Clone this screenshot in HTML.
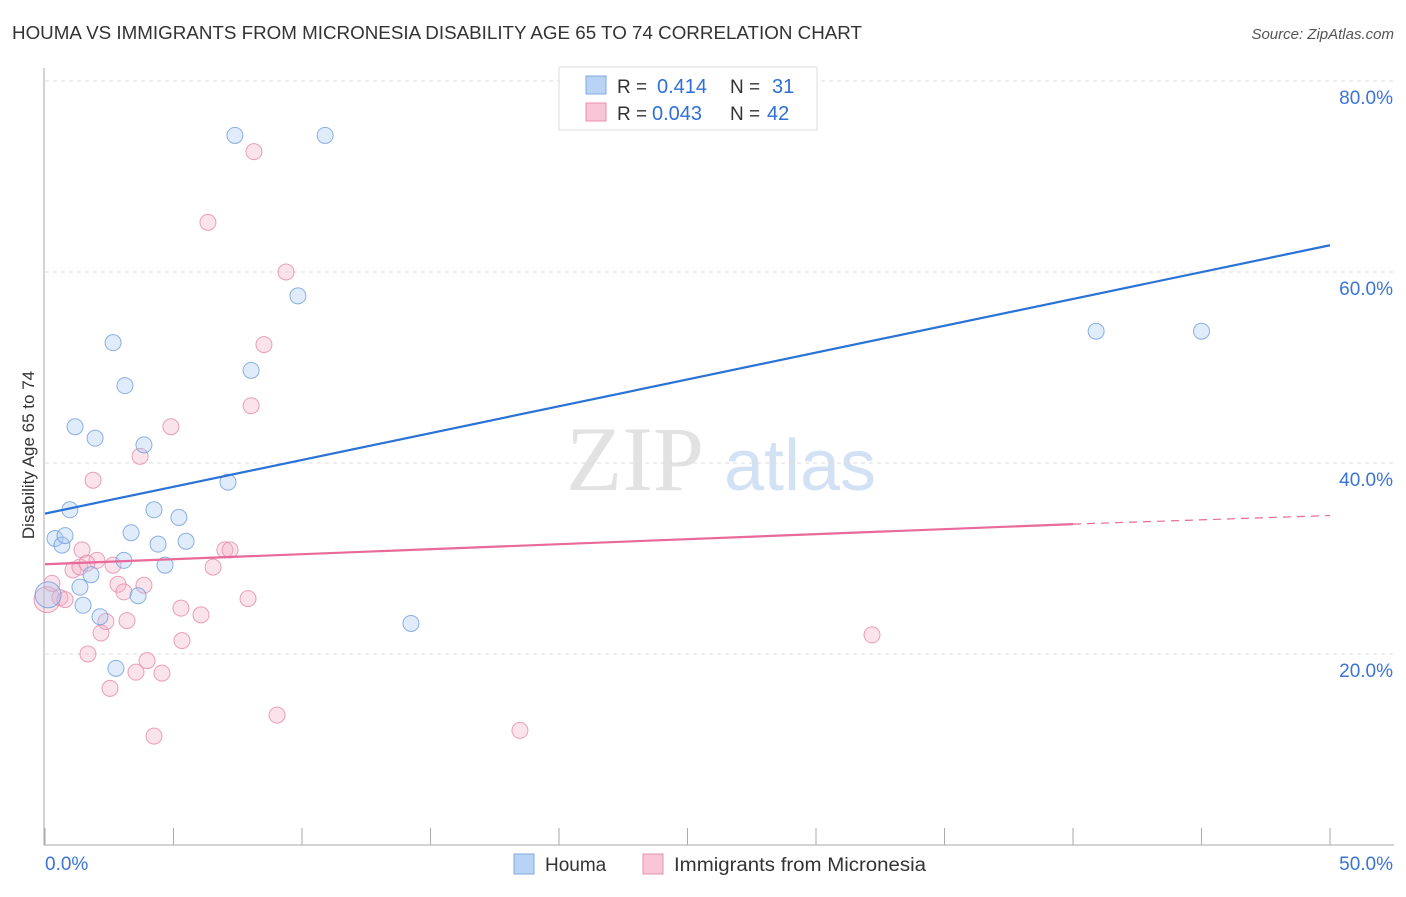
<!DOCTYPE html>
<html><head><meta charset="utf-8"><style>
body{margin:0;background:#fff;font-family:"Liberation Sans",sans-serif;}
svg text{font-family:"Liberation Sans",sans-serif;}
</style></head><body>
<svg id="chart" width="1406" height="892" viewBox="0 0 1406 892">
<text x="12" y="39" font-size="18" fill="#333" textLength="850" lengthAdjust="spacingAndGlyphs">HOUMA VS IMMIGRANTS FROM MICRONESIA DISABILITY AGE 65 TO 74 CORRELATION CHART</text>
<text x="1394" y="39" font-size="15" fill="#555" font-style="italic" text-anchor="end">Source: ZipAtlas.com</text>
<g><text x="635" y="490" font-size="92" fill="#e2e2e2" text-anchor="middle" font-family="Liberation Serif" style="font-family:'Liberation Serif',serif">ZIP</text><text x="800" y="490" font-size="72" fill="#d3e1f5" text-anchor="middle">atlas</text></g>
<g id="grid"></g><g id="axes"></g><g id="marks"></g>
<text transform="translate(34,455) rotate(-90)" font-size="17" fill="#333" text-anchor="middle">Disability Age 65 to 74</text>
<g>
<rect x="559" y="67" width="258" height="63" fill="#fff" stroke="#ddd"/>
<rect x="586" y="76" width="20" height="18" fill="#b9d3f5" stroke="#7ea8e0"/>
<rect x="586" y="103" width="20" height="18" fill="#f8c6d6" stroke="#e890ab"/>
<text x="617" y="93" font-size="19" fill="#333">R =</text><text x="657" y="93" font-size="20" fill="#2f6fd6">0.414</text>
<text x="730" y="93" font-size="19" fill="#333">N =</text><text x="772" y="93" font-size="20" fill="#2f6fd6">31</text>
<text x="617" y="120" font-size="19" fill="#333">R =</text><text x="652" y="120" font-size="20" fill="#2f6fd6">0.043</text>
<text x="730" y="120" font-size="19" fill="#333">N =</text><text x="767" y="120" font-size="20" fill="#2f6fd6">42</text>
</g>
<g>
<rect x="514" y="854" width="20" height="20" fill="#b9d3f5" stroke="#7ea8e0"/>
<text x="545" y="871" font-size="19" fill="#333">Houma</text>
<rect x="643" y="854" width="20" height="20" fill="#f8c6d6" stroke="#e890ab"/>
<text x="674" y="871" font-size="19" fill="#333" textLength="252" lengthAdjust="spacingAndGlyphs">Immigrants from Micronesia</text>
</g>
</svg>
<script>
const yTicks=[20,40,60,80];
const yTickLabels=["20.0%","40.0%","60.0%","80.0%"];
const xTicks=[0,5,10,15,20,25,30,35,40,45,50];
const houmaX=[0.39,0.66,0.78,0.97,1.17,1.95,2.65,3.11,3.85,3.35,3.07,4.24,4.40,5.21,5.49,4.67,1.79,1.36,1.48,2.14,2.76,3.62,7.12,8.02,7.39,10.90,9.84,14.24,40.9,45.0,0.12];
const houmaY=[32.1,31.4,32.4,35.1,43.8,42.6,52.6,48.1,41.9,32.7,29.8,35.1,31.5,34.3,31.8,29.3,28.3,27.0,25.1,23.9,18.5,26.1,38.0,49.7,74.3,74.3,57.5,23.2,53.8,53.8,26.2];
const micX=[0.08,0.27,0.58,0.78,1.09,1.36,1.67,1.87,1.44,2.02,1.63,2.18,2.37,2.53,2.65,2.84,3.07,3.19,3.54,3.97,4.55,4.24,3.70,3.85,4.90,5.29,5.33,6.07,6.54,7.00,7.20,6.34,8.13,9.38,8.52,8.02,7.90,9.03,18.48,32.18];
const micY=[25.7,27.4,25.9,25.7,28.8,29.1,20.0,38.2,30.9,29.8,29.5,22.2,23.4,16.4,29.3,27.3,26.5,23.5,18.1,19.3,18.0,11.4,40.7,27.2,43.8,24.8,21.4,24.1,29.1,30.9,30.9,65.2,72.6,60.0,52.4,46.0,25.8,13.6,12.0,22.0];
const houmaTrend=[34.7,62.8];
const micTrend=[29.4,33.6,34.5];
const NS="http://www.w3.org/2000/svg";
const X=v=>45+v/50*1285, Y=v=>845-v/20*191;
function mk(p,tag,at){const e=document.createElementNS(NS,tag);for(const k in at)e.setAttribute(k,at[k]);p.appendChild(e);return e;}
const grid=document.getElementById('grid'),axes=document.getElementById('axes'),marks=document.getElementById('marks');
yTicks.forEach((t,i)=>{
 const l=mk(grid,'line',{x1:45,x2:1394,y1:Y(t),y2:Y(t),stroke:'#ddd','stroke-dasharray':'4,4'});
 
 
 const tx=mk(axes,'text',{x:1393,y:Y(t)+23,'font-size':19,fill:'#3a74d6','text-anchor':'end'});tx.textContent=yTickLabels[i];
 
 
});
mk(axes,'line',{x1:44,x2:44,y1:68,y2:845,stroke:'#aaa'});
mk(axes,'line',{x1:44,x2:1394,y1:845,y2:845,stroke:'#aaa'});
xTicks.forEach(t=>{const l=mk(axes,'line',{x1:X(t),x2:X(t),y1:828,y2:845,stroke:'#aaa'});
 
 });
let t0=mk(axes,'text',{x:45,y:870,'font-size':19,fill:'#3a74d6'});t0.textContent='0.0%';


let t1=mk(axes,'text',{x:1393,y:870,'font-size':19,fill:'#3a74d6','text-anchor':'end'});t1.textContent='50.0%';


function pts(xs,ys,fill,stroke,name){xs.forEach((x,i)=>{const big=i===xs.length-1&&name==='houma-point'||i===0&&name==='micronesia-point';
 const c=mk(marks,'circle',{cx:X(x),cy:Y(ys[i]),r:big?13:8,fill:fill,'fill-opacity':0.35,stroke:stroke,'stroke-width':1,'stroke-opacity':0.8});
 
 });}
pts(micX,micY,'#f4b0c6','#e58aa8','micronesia-point');
pts(houmaX,houmaY,'#a9c8f0','#6e9ddc','houma-point');
const bl=mk(marks,'line',{x1:X(0),y1:Y(houmaTrend[0]),x2:X(50),y2:Y(houmaTrend[1]),stroke:'#2a72d6','stroke-width':2.2});


const pl=mk(marks,'line',{x1:X(0),y1:Y(micTrend[0]),x2:X(40),y2:Y(micTrend[1]),stroke:'#e8699a','stroke-width':2.2});


const pd=mk(marks,'line',{x1:X(40),y1:Y(micTrend[1]),x2:X(50),y2:Y(micTrend[2]),stroke:'#e8699a','stroke-width':1.2,'stroke-dasharray':'8,6'});


</script>
</body></html>
